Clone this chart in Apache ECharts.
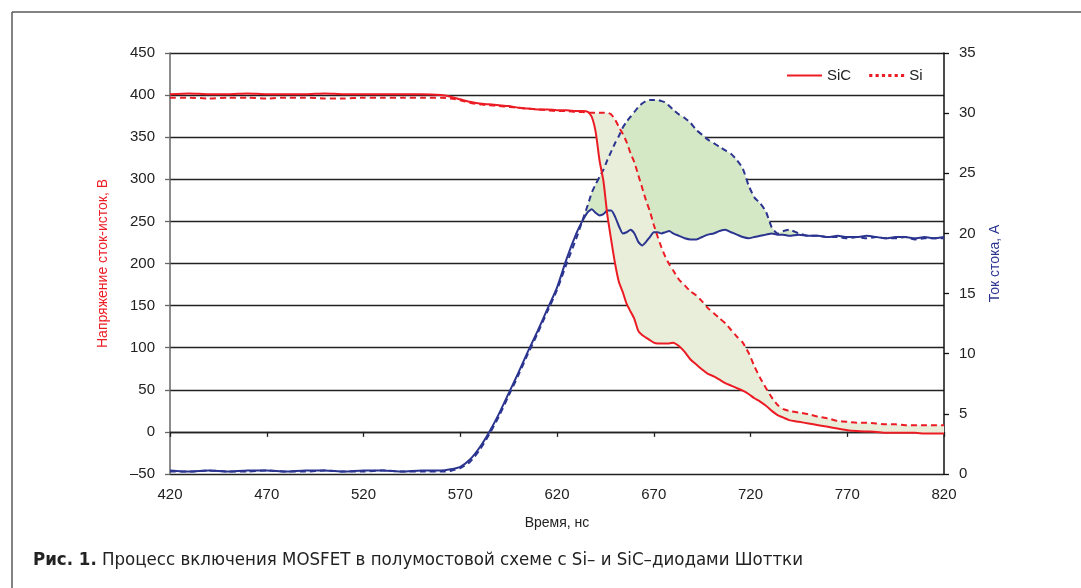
<!DOCTYPE html>
<html>
<head>
<meta charset="utf-8">
<script src="https://cdn.jsdelivr.net/npm/echarts@6/dist/echarts.min.js"></script>
<style>
  html, body { margin: 0; padding: 0; background: #fff; }
  #chart { width: 1081px; height: 588px; }
</style>
</head>
<body>
<div id="chart"></div>
<script>
// время, нс — общая сетка для всех четырёх кривых
var t = [420, 430, 440, 450, 460, 470, 480, 490, 500, 510, 520, 530, 540, 550, 560,
  565, 570, 575, 580, 585, 590, 595, 600, 605, 610, 615, 620, 625, 630, 633, 636,
  638, 640, 642, 644, 646, 648, 650, 652, 654, 656, 658, 660, 662, 664, 666, 668, 670,
  672, 674, 676, 678, 680, 683, 686, 689, 692, 695, 698, 701, 704, 707, 710, 713, 716,
  719, 722, 725, 728, 731, 734, 737, 740, 745, 750, 755, 760, 765, 770, 775, 780, 785,
  790, 795, 800, 805, 810, 815, 820];

// напряжение сток-исток, В (SiC — сплошная, Si — пунктир)
var vSiC = [401, 402, 401, 401, 402, 401, 401, 401, 402, 401, 401, 401, 401, 401, 400,
  398, 395, 392, 390, 389, 388, 387, 385, 384, 383, 383, 382, 382, 381, 381, 380,
  374, 356, 322, 298, 258, 228, 200, 178, 166, 152, 143, 134, 120, 115, 112, 109, 106,
  105, 105, 105, 105, 106, 102, 95, 86, 80, 74, 69, 66, 62, 58, 55, 52, 49,
  45, 40, 36, 31, 25, 20, 17, 14, 12, 10, 8, 6, 4, 2, 1, 0.5, 0,
  -1, -1, -1, -1, -2, -2, -2];
var vSi = [397, 397, 396, 397, 397, 396, 397, 397, 396, 396, 397, 397, 397, 397, 397,
  396, 394, 391, 389, 388, 387, 386, 385, 384, 383, 382, 381, 381, 380, 380, 379,
  379, 379, 379, 379, 379, 377, 371, 362, 354, 344, 331, 320, 305, 290, 275, 262, 246,
  232, 219, 208, 199, 192, 181, 174, 167, 162, 155, 147, 141, 135, 129, 121, 113, 106,
  94, 78, 64, 52, 41, 32, 27, 25, 23, 21, 18, 16, 13, 12, 11, 11, 10,
  9, 9, 8, 8, 8, 8, 8];

// ток стока, А
var iSiC = [0.3, 0.2, 0.3, 0.2, 0.3, 0.3, 0.2, 0.3, 0.3, 0.2, 0.3, 0.3, 0.2, 0.3, 0.3,
  0.4, 0.6, 1.2, 2.2, 3.5, 5.0, 6.7, 8.4, 10.2, 11.9, 13.7, 15.5, 17.9, 20.0, 21.0, 21.8,
  22.0, 21.7, 21.5, 21.6, 21.9, 21.9, 21.4, 20.6, 20.0, 20.1, 20.3, 20.0, 19.3, 19.0, 19.3, 19.7, 20.1,
  20.1, 20.0, 20.1, 20.2, 20.0, 19.8, 19.6, 19.5, 19.5, 19.7, 19.9, 20.0, 20.2, 20.3, 20.1, 19.9, 19.7,
  19.6, 19.7, 19.8, 19.9, 20.0, 19.9, 19.9, 19.8, 19.9, 19.8, 19.8, 19.7, 19.8, 19.7, 19.7, 19.8, 19.7,
  19.6, 19.7, 19.7, 19.6, 19.7, 19.6, 19.7];
var iSi = [0.2, 0.2, 0.3, 0.2, 0.2, 0.3, 0.2, 0.2, 0.3, 0.2, 0.2, 0.3, 0.2, 0.2, 0.2,
  0.25, 0.5, 1.0, 2.0, 3.3, 4.8, 6.5, 8.2, 10.0, 11.7, 13.5, 15.3, 17.5, 19.6, 21.0, 22.4,
  23.4, 24.1, 24.7, 25.3, 26.1, 26.8, 27.5, 28.1, 28.8, 29.3, 29.7, 30.1, 30.5, 30.8, 31.0, 31.1, 31.1,
  31.1, 31.0, 30.9, 30.6, 30.3, 29.9, 29.6, 29.2, 28.6, 28.2, 27.8, 27.5, 27.2, 26.9, 26.6, 26.1, 25.4,
  24.0, 23.0, 22.5, 21.8, 20.5, 20.0, 20.2, 20.3, 20.0, 19.8, 19.8, 19.7, 19.7, 19.6, 19.7, 19.6, 19.7,
  19.6, 19.6, 19.7, 19.5, 19.6, 19.6, 19.6];

var RED = '#ec1c24';
var NAVY = '#2b3590';
var FONT = '"Liberation Sans", Arial, sans-serif';
var CAPFONT = '"Liberation Sans Narrow", "DejaVu Sans Condensed", sans-serif';

function pairs(ys) {
  return t.map(function (x, k) { return [x, ys[k]]; });
}

// полоса между верхней (hi) и нижней (lo) кривой — полигон через api.coord
function band(hi, lo, color, axisIdx) {
  return {
    type: 'custom', yAxisIndex: axisIdx, silent: true, z: 1,
    data: [0],
    renderItem: function (params, api) {
      var pts = [];
      for (var k = 0; k < t.length; k++) pts.push(api.coord([t[k], Math.max(hi[k], lo[k])]));
      for (var k = t.length - 1; k >= 0; k--) pts.push(api.coord([t[k], lo[k]]));
      return {
        type: 'polygon',
        shape: { points: pts },
        style: { fill: color, stroke: null },
        clipPath: { type: 'rect', shape: params.coordSys }
      };
    }
  };
}

var myChart = echarts.init(document.getElementById('chart'));
var option = {
  animation: false,
  textStyle: { fontFamily: FONT },
  grid: { left: 170, right: 137, top: 53, bottom: 114 },
  legend: {
    left: 782, top: 63,
    itemWidth: 35, itemHeight: 14, itemGap: 18,
    textStyle: { fontSize: 15, color: '#222', fontFamily: FONT },
    data: [
      { name: 'SiC', icon: 'path://M0,0L10,0L10,0.6L0,0.6Z', itemStyle: { color: RED } },
      { name: 'Si', icon: 'path://M0,0L1,0L1,1L0,1Z M2,0L3,0L3,1L2,1Z M4,0L5,0L5,1L4,1Z M6,0L7,0L7,1L6,1Z M8,0L9,0L9,1L8,1Z M10,0L11,0L11,1L10,1Z', itemStyle: { color: RED } }
    ]
  },
  xAxis: [{
    type: 'value', min: 420, max: 820, interval: 50,
    name: 'Время, нс', nameLocation: 'middle', nameGap: 42,
    nameTextStyle: { fontSize: 14, color: '#222' },
    axisLine: { show: false, onZero: false },
    axisTick: { show: false },
    axisLabel: { fontSize: 15, color: '#222', margin: 13 },
    splitLine: { show: false }
  }, {
    type: 'value', min: 420, max: 820, interval: 50, position: 'bottom',
    axisLine: { show: true, onZero: true, onZeroAxisIndex: 0, lineStyle: { color: '#222', width: 1.4 } },
    axisTick: { show: true, length: 5, lineStyle: { color: '#222', width: 1.3 } },
    axisLabel: { show: false },
    splitLine: { show: false }
  }],
  yAxis: [{
    type: 'value', min: -50, max: 450, interval: 50,
    name: 'Напряжение сток-исток, В', nameLocation: 'middle', nameGap: 60,
    nameTextStyle: { fontSize: 14, color: RED },
    axisLine: { show: true, lineStyle: { color: '#666', width: 1.5 } },
    axisTick: { show: true, length: 5, lineStyle: { color: '#666', width: 1.3 } },
    axisLabel: {
      fontSize: 15, color: '#222', margin: 15,
      formatter: function (v) { return v < 0 ? '\u2013' + Math.abs(v) : String(v); }
    },
    splitLine: { show: true, lineStyle: { color: '#222', width: 1.4 } }
  }, {
    type: 'value', min: 0, max: 35, interval: 5,
    name: 'Ток стока, А', nameLocation: 'middle', nameGap: 44,
    nameTextStyle: { fontSize: 14, color: NAVY },
    axisLine: { show: true, onZero: false, lineStyle: { color: '#111', width: 1.5 } },
    axisTick: { show: true, length: 5, lineStyle: { color: '#111', width: 1.3 } },
    axisLabel: { fontSize: 15, color: '#222', margin: 15 },
    splitLine: { show: false }
  }],
  graphic: [
    { type: 'line', shape: { x1: 12, y1: 12, x2: 1081, y2: 12 }, style: { stroke: '#5a5a5a', lineWidth: 1.5 } },
    { type: 'line', shape: { x1: 12, y1: 12, x2: 12, y2: 588 }, style: { stroke: '#5a5a5a', lineWidth: 1.5 } },
    {
      type: 'text', left: 33, top: 551,
      style: {
        text: '{b|Рис. 1.} Процесс включения MOSFET в полумостовой схеме с Si– и SiC–диодами Шоттки',
        font: '18.5px ' + CAPFONT,
        fill: '#222',
        rich: { b: { fontWeight: 'bold', fontSize: 18.5, fontFamily: CAPFONT } }
      }
    }
  ],
  series: [
    band(iSi, iSiC, '#d5e8c5', 1),
    band(vSi, vSiC, '#e9eedb', 0),
    { name: 'Si ток', type: 'line', yAxisIndex: 1, data: pairs(iSi), showSymbol: false, symbol: 'none', smooth: 0.2,
      lineStyle: { color: NAVY, width: 2, type: [6, 4] } },
    { name: 'SiC ток', type: 'line', yAxisIndex: 1, data: pairs(iSiC), showSymbol: false, symbol: 'none', smooth: 0.2,
      lineStyle: { color: NAVY, width: 2 } },
    { name: 'Si', type: 'line', yAxisIndex: 0, data: pairs(vSi), showSymbol: false, symbol: 'none', smooth: 0.2,
      itemStyle: { color: RED }, lineStyle: { color: RED, width: 2, type: [6, 4] } },
    { name: 'SiC', type: 'line', yAxisIndex: 0, data: pairs(vSiC), showSymbol: false, symbol: 'none', smooth: 0.2,
      itemStyle: { color: RED }, lineStyle: { color: RED, width: 2 } }
  ]
};
myChart.setOption(option);
</script>
</body>
</html>
